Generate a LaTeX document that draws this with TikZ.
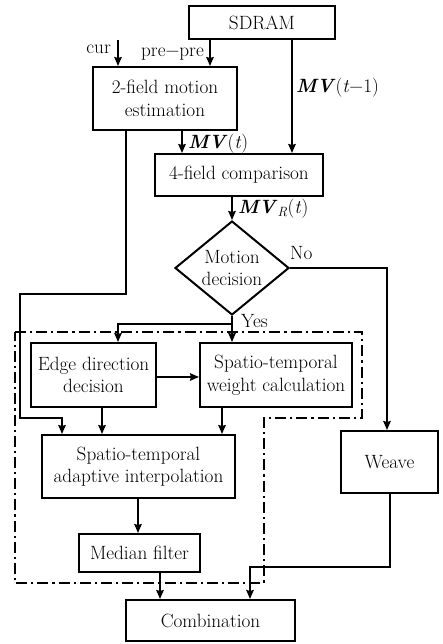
\documentclass[tikz,border=0pt]{standalone}
\usepackage{fontspec}
\usetikzlibrary{shapes.geometric,arrows.meta,calc}
\newcommand\diagfont{\fontsize{19.2}{22.5}\selectfont}
\newcommand\mvb{\textbf{\textit{MV}}}
\begin{document}
\begin{tikzpicture}[x=1pt,y=-1pt,
  box/.style={draw,line width=2pt,inner sep=0pt,align=center,font=\diagfont},
  lbl/.style={inner sep=0pt,font=\diagfont},
  conn/.style={line width=1.7pt},
  arr/.style={conn,-{Stealth[length=9pt,width=7.5pt,inset=1pt]}},
  dashdotbox/.style={line width=1.8pt,dash pattern=on 11pt off 4pt on 2.2pt off 4pt}]
\useasboundingbox (0,0) rectangle (442,644);
% boxes
\node[box,minimum width=146pt,minimum height=33pt] (sd) at (262,22.5) {SDRAM};
\node[box,minimum width=144pt,minimum height=63pt] (tf) at (165,98.5) {2-field motion\\estimation};
\node[box,minimum width=168pt,minimum height=42pt] (ff) at (239,175) {4-field comparison};
\node[draw,line width=2pt,diamond,inner sep=0pt,minimum width=114pt,minimum height=94pt] (md) at (232,268) {};
\node[lbl,align=center] (mdt) at (232,268) {Motion\\decision};
\node[box,minimum width=125pt,minimum height=64pt] (ed) at (93.5,375) {Edge direction\\decision};
\node[box,minimum width=152pt,minimum height=64pt] (wt) at (276,375) {Spatio-temporal\\weight calculation};
\node[box,minimum width=193pt,minimum height=63pt] (ad) at (138.5,466.5) {Spatio-temporal\\adaptive interpolation};
\node[box,minimum width=121pt,minimum height=38pt] (mf) at (139.5,553) {Median filter};
\node[box,minimum width=97pt,minimum height=62pt] (wv) at (389.5,462) {Weave};
\node[box,minimum width=169pt,minimum height=41pt] (cb) at (210.5,620.5) {Combination};
% dash-dot region
\draw[dashdotbox] (15,332) -- (362,332) -- (362,418) -- (264,418) -- (264,583) -- (15,583) -- cycle;
% coordinates
\coordinate (curin) at (118,40);
\coordinate (ppx) at (210,0);
\coordinate (mv1x) at (292,0);
\coordinate (mvtx) at (182,0);
\coordinate (mvrx) at (232,0);
\coordinate (nocor) at (387,268);
\coordinate (yesbr) at (232,324);
\coordinate (yesl) at (118,324);
\coordinate (edrow) at (0,377);
\coordinate (l1) at (126,294);
\coordinate (l2) at (20,294);
\coordinate (l3) at (20,418);
\coordinate (l4) at (62,418);
\coordinate (edx) at (102,0);
\coordinate (wtx) at (222,0);
\coordinate (adx) at (138,0);
\coordinate (mfx) at (160,0);
\coordinate (w1) at (390,567);
\coordinate (w2) at (250,567);
% connectors
\draw[arr] (curin) -- (curin |- tf.north);
\draw[arr] (ppx |- sd.south) -- (ppx |- tf.north);
\draw[arr] (mv1x |- sd.south) -- (mv1x |- ff.north);
\draw[arr] (mvtx |- tf.south) -- (mvtx |- ff.north);
\draw[arr] (mvrx |- ff.south) -- (md.north);
\draw[arr] (md.east) -- (nocor) -- (nocor |- wv.north);
\draw[arr] (md.south) -- (md.south |- wt.north);
\draw[arr] (yesbr) -- (yesl) -- (yesl |- ed.north);
\draw[arr] (ed.east |- edrow) -- (wt.west |- edrow);
\draw[arr] (l1 |- tf.south) -- (l1) -- (l2) -- (l3) -- (l4) -- (l4 |- ad.north);
\draw[arr] (edx |- ed.south) -- (edx |- ad.north);
\draw[arr] (wtx |- wt.south) -- (wtx |- ad.north);
\draw[arr] (adx |- ad.south) -- (adx |- mf.north);
\draw[arr] (mfx |- mf.south) -- (mfx |- cb.north);
\draw[arr] (w1 |- wv.south) -- (w1) -- (w2) -- (w2 |- cb.north);
% labels
\node[lbl,anchor=base east] (lcur) at (111,54) {cur};
\node[lbl,anchor=base east] (lpp) at (204,57) {pre−pre};
\node[lbl,anchor=base west] (lmv1) at (296,93) {\mvb(\textit{t}−1)};
\node[lbl,anchor=base west] (lmvt) at (188,149) {\mvb(\textit{t})};
\node[lbl,anchor=base west] (lmvr) at (238,213) {\mvb\textsubscript{\textit{R}}(\textit{t})};
\node[lbl,anchor=base west] (lno) at (290,259) {No};
\node[lbl,anchor=base west] (lyes) at (241,327) {Yes};
\end{tikzpicture}
\end{document}
